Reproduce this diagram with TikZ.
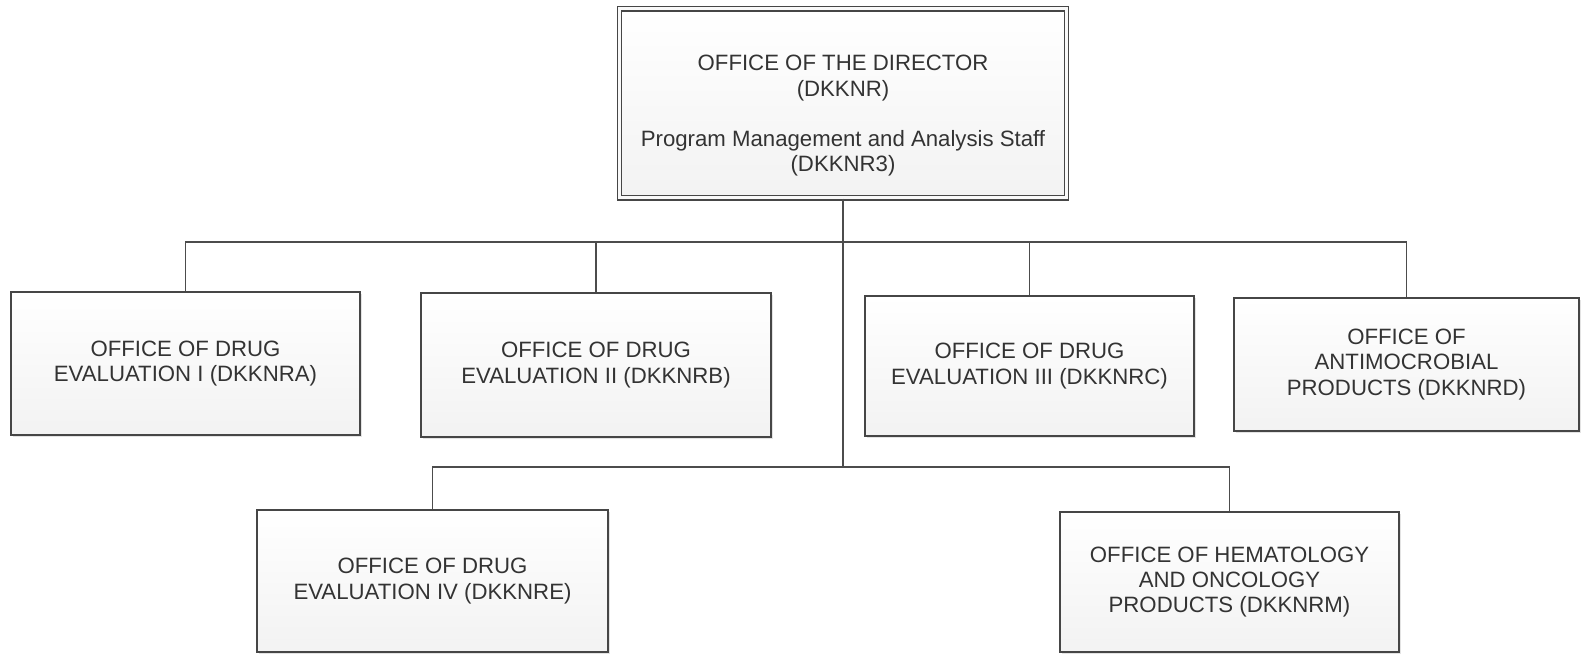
\documentclass[tikz,border=0pt]{standalone}
\usepackage{fontspec}
\setmainfont{Liberation Sans}
\usetikzlibrary{shadows}

\begin{document}
\begin{tikzpicture}[x=0.5pt,y=-0.5pt,
	office_node/.style={rectangle,draw=gray!55!black,line width=0.7pt,
		top color=white,bottom color=gray!10,
		drop shadow={shadow xshift=1.2pt,shadow yshift=-1.2pt,opacity=0.22},
		align=center,inner sep=2pt,
		font=\fontsize{11.1}{12.6}\selectfont,text=black!80},
	head_node/.style={office_node,double=gray!5,double distance=1.5pt,line width=0.55pt},
	link/.style={draw=black!70,line width=0.75pt}]

	\useasboundingbox[fill=white] (0,0) rectangle (1585,656);

	\node[head_node,minimum width=223.5pt,minimum height=94.5pt] (dir) at (843,103.5)
		{\rule{0pt}{20pt}OFFICE OF THE DIRECTOR\\(DKKNR)\\[12.5pt]Program Management and Analysis Staff\\(DKKNR3)};

	\node[office_node,minimum width=174.5pt,minimum height=71.5pt] (ode1) at (185.5,363.5)
		{OFFICE OF DRUG\\EVALUATION I (DKKNRA)};
	\node[office_node,minimum width=175pt,minimum height=72pt] (ode2) at (596,365)
		{OFFICE OF DRUG\\EVALUATION II (DKKNRB)};
	\node[office_node,minimum width=164.5pt,minimum height=70pt] (ode3) at (1029.5,366)
		{OFFICE OF DRUG\\EVALUATION III (DKKNRC)};
	\node[office_node,minimum width=172.5pt,minimum height=66.5pt] (oap) at (1406.5,364.5)
		{OFFICE OF\\ANTIMOCROBIAL\\PRODUCTS (DKKNRD)};
	\node[office_node,minimum width=175.5pt,minimum height=71pt] (ode4) at (432.5,581)
		{OFFICE OF DRUG\\EVALUATION IV (DKKNRE)};
	\node[office_node,minimum width=169.5pt,minimum height=70pt] (ohop) at (1229.5,582)
		{OFFICE OF HEMATOLOGY\\AND ONCOLOGY\\PRODUCTS (DKKNRM)};

	% junctions of the two bars on the trunk
	\coordinate (bar1) at (843,242);
	\coordinate (bar2) at (843,467);

	\draw[link] (dir.south) -- (bar2);
	\draw[link] (ode1.north) |- (bar1);
	\draw[link] (ode2.north) |- (bar1);
	\draw[link] (ode3.north) |- (bar1);
	\draw[link] (oap.north) |- (bar1);
	\draw[link] (ode4.north) |- (bar2);
	\draw[link] (ohop.north) |- (bar2);
\end{tikzpicture}
\end{document}
